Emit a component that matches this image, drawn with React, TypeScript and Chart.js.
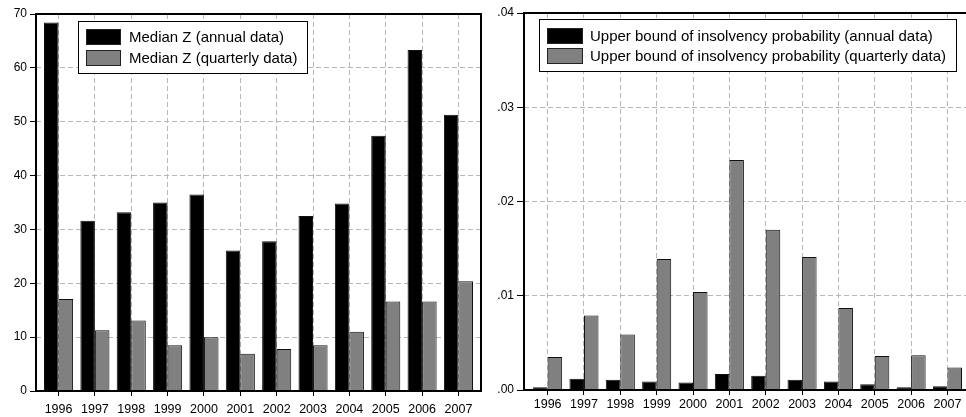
import React, { useEffect, useRef } from 'react';
import { Chart, registerables } from 'chart.js';

Chart.register(...registerables);

const years = ['1996', '1997', '1998', '1999', '2000', '2001', '2002', '2003', '2004', '2005', '2006', '2007'];

const medianZAnnual = [68.4, 31.6, 33.2, 35.0, 36.5, 26.1, 27.8, 32.5, 34.8, 47.4, 63.3, 51.3];
const medianZQuarterly = [17.1, 11.3, 13.1, 8.5, 10.0, 6.9, 7.8, 8.5, 11.0, 16.6, 16.6, 20.4];

const probAnnual = [0.0003, 0.0012, 0.0011, 0.0009, 0.0008, 0.0017, 0.0015, 0.0011, 0.0009, 0.0006, 0.0003, 0.0004];
const probQuarterly = [0.0035, 0.0079, 0.0059, 0.0139, 0.0104, 0.0244, 0.0170, 0.0141, 0.0087, 0.0036, 0.0037, 0.0024];

const zTicks = [0, 10, 20, 30, 40, 50, 60, 70];
const probTicks = [0, 0.01, 0.02, 0.03, 0.04];

const FONT = "'Liberation Sans', Arial, Helvetica, sans-serif";
const BLACK = '#000000';
const GREY = '#808080';
const GRID = '#b8b8b8';

const framePlugin = {
  id: 'frame',
  afterDatasetsDraw(chart: any) {
    const { ctx, chartArea: a } = chart;
    ctx.save();
    ctx.strokeStyle = '#000';
    ctx.lineWidth = 2;
    ctx.strokeRect(a.left, a.top, a.right - a.left, a.bottom - a.top);
    ctx.restore();
  },
};

const boxLegendPlugin = {
  id: 'boxLegend',
  afterDraw(chart: any, _args: any, opts: any) {
    const { ctx, chartArea: a } = chart;
    const x0 = Math.round(a.left + opts.dx);
    const y0 = Math.round(a.top + opts.dy);
    ctx.save();
    ctx.font = `${opts.fontSize}px ${FONT}`;
    const labels = chart.data.datasets.map((d: any) => d.label);
    const tw = Math.max(...labels.map((l: string) => ctx.measureText(l).width));
    const w = Math.round(opts.padLeft + opts.swatchW + opts.gap + tw + opts.padRight);
    const h = opts.height;
    ctx.fillStyle = '#fff';
    ctx.fillRect(x0, y0, w, h);
    ctx.strokeStyle = '#000';
    ctx.lineWidth = 1;
    ctx.strokeRect(x0 + 0.5, y0 + 0.5, w, h);
    chart.data.datasets.forEach((d: any, i: number) => {
      const sy = y0 + opts.firstRow + i * opts.rowH;
      const sx = x0 + opts.padLeft;
      ctx.fillStyle = d.backgroundColor;
      ctx.fillRect(sx, sy, opts.swatchW, opts.swatchH);
      ctx.strokeStyle = '#222';
      ctx.strokeRect(sx + 0.5, sy + 0.5, opts.swatchW - 1, opts.swatchH - 1);
      ctx.fillStyle = '#000';
      ctx.textBaseline = 'middle';
      ctx.textAlign = 'left';
      ctx.fillText(d.label, sx + opts.swatchW + opts.gap, sy + opts.swatchH / 2 + 1);
    });
    ctx.restore();
  },
};

function makeDataset(label: string, values: number[], color: string) {
  return {
    label,
    data: values.map((v, i) => ({ x: i, y: v })),
    backgroundColor: color,
    borderColor: '#111',
    borderWidth: 1,
    categoryPercentage: 0.8,
    barPercentage: 1.0,
  };
}

function makeConfig(p: any) {
  return {
    type: 'bar',
    data: {
      datasets: [
        makeDataset(p.labels[0], p.series[0], BLACK),
        makeDataset(p.labels[1], p.series[1], GREY),
      ],
    },
    plugins: [framePlugin, boxLegendPlugin],
    options: {
      responsive: false,
      animation: false,
      layout: { padding: p.padding },
      plugins: {
        legend: { display: false },
        tooltip: { enabled: false },
        boxLegend: p.legend,
      },
      scales: {
        x: {
          type: 'linear',
          offset: false,
          min: p.xMin,
          max: p.xMax,
          afterFit: (s: any) => { s.height = p.xAxisHeight; },
          ticks: {
            stepSize: 1,
            includeBounds: false,
            autoSkip: false,
            maxRotation: 0,
            color: '#000',
            padding: p.xPad,
            font: { family: FONT, size: 12.5 },
            callback: (v: number) => (Number.isInteger(v) ? years[v] ?? '' : ''),
          },
          grid: {
            offset: false,
            color: GRID,
            lineWidth: 1,
            tickLength: 5,
            tickColor: '#000',
            tickWidth: 1,
            tickBorderDash: [],
          },
          border: { display: false, dash: [5, 3] },
        },
        y: {
          type: 'linear',
          min: p.yTicks[0],
          max: p.yTicks[p.yTicks.length - 1],
          afterFit: (s: any) => { s.width = p.yAxisWidth; },
          afterBuildTicks: (s: any) => { s.ticks = p.yTicks.map((v: number) => ({ value: v })); },
          ticks: {
            color: '#000',
            padding: p.yPad,
            font: { family: FONT, size: 12 },
            callback: p.yFormat,
          },
          grid: {
            color: GRID,
            lineWidth: 1,
            tickLength: p.yTickLen,
            tickColor: '#000',
            tickWidth: 1,
            tickBorderDash: [],
          },
          border: { display: false, dash: [5, 3] },
        },
      },
    },
  };
}

function BarPanel(props: { left: number; width: number; cfg: any }) {
  const ref = useRef<HTMLCanvasElement | null>(null);
  useEffect(() => {
    if (!ref.current) return;
    const chart = new Chart(ref.current, makeConfig(props.cfg) as any);
    return () => chart.destroy();
  }, []);
  return (
    <canvas
      ref={ref}
      width={props.width}
      height={417}
      style={{ position: 'absolute', left: props.left, top: 0, width: props.width, height: 417 }}
    />
  );
}

const leftCfg = {
  labels: ['Median Z (annual data)', 'Median Z (quarterly data)'],
  series: [medianZAnnual, medianZQuarterly],
  yTicks: zTicks,
  yFormat: (v: number) => String(v),
  padding: { top: 14, right: 3, left: 0, bottom: 0 },
  xMin: -0.62,
  xMax: 11.62,
  xAxisHeight: 26,
  yAxisWidth: 36,
  xPad: 6,
  yPad: 3,
  yTickLen: 6,
  legend: { dx: 42, dy: 7, fontSize: 15, padLeft: 8, swatchW: 35, swatchH: 16, gap: 8, padRight: 10, height: 52, firstRow: 8, rowH: 21 },
};

const rightCfg = {
  labels: ['Upper bound of insolvency probability (annual data)', 'Upper bound of insolvency probability (quarterly data)'],
  series: [probAnnual, probQuarterly],
  yTicks: probTicks,
  yFormat: (v: number) => v.toFixed(2).replace(/^0/, ''),
  padding: { top: 13, right: 5, left: 0, bottom: 0 },
  xMin: -0.65,
  xMax: 11.62,
  xAxisHeight: 27,
  yAxisWidth: 41,
  xPad: 2,
  yPad: 3,
  yTickLen: 7,
  legend: { dx: 15, dy: 6, fontSize: 15, padLeft: 8, swatchW: 36, swatchH: 16, gap: 7, padRight: 10, height: 52, firstRow: 9, rowH: 20 },
};

export default function App() {
  return (
    <div
      style={{
        position: 'fixed',
        left: 0,
        top: 0,
        width: 966,
        height: 417,
        overflow: 'hidden',
        background: '#fff',
      }}
    >
      <BarPanel left={0} width={484} cfg={leftCfg} />
      <BarPanel left={483} width={492} cfg={rightCfg} />
    </div>
  );
}
